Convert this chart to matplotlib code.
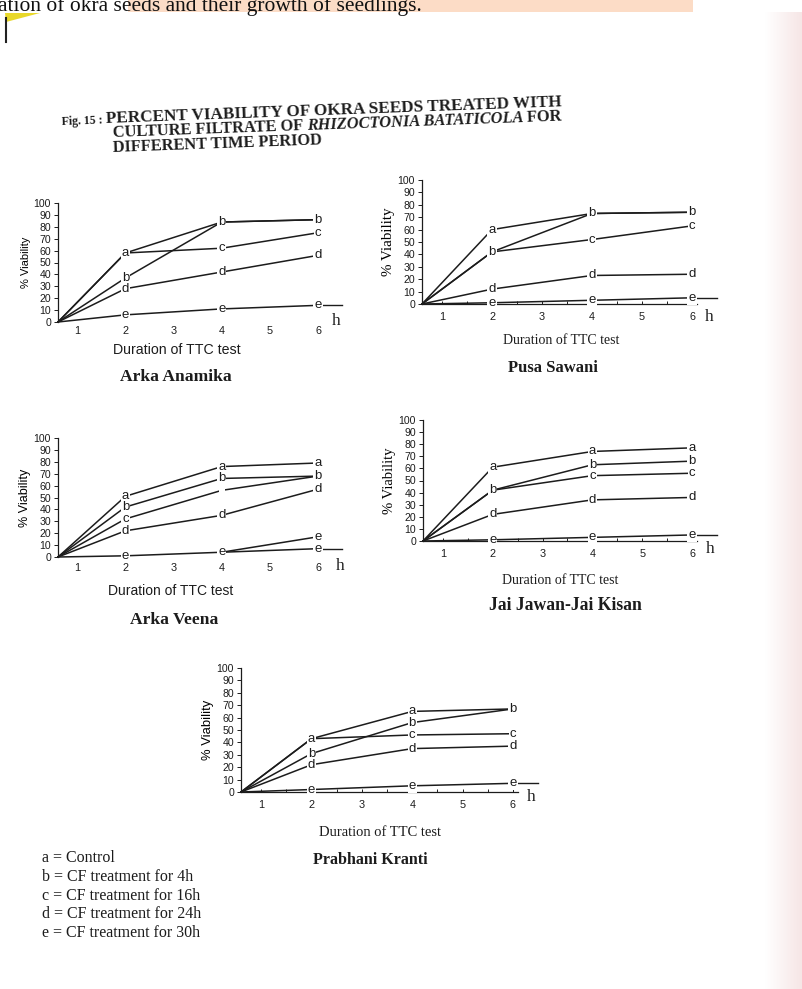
import numpy as np
import matplotlib.pyplot as plt
from matplotlib.colors import LinearSegmentedColormap

W, H = 802, 989

# x position of the points (origin, 2 h, 4 h, 6 h)
hours = [0.6, 2, 4, 6]
tick_hours = [1, 2, 3, 4, 5, 6]
viability_ticks = list(range(0, 101, 10))

# % viability per treatment (a = control, b..e = CF treatment 4/16/24/30 h)
anamika = {"a": [0, 58, 84, 86], "b": [0, 37, 84, 86], "c": [0, 58, 62, 75],
           "d": [0, 28, 42, 56], "e": [0, 6, 11, 14]}
pusa = {"a": [0, 60, 73, 74], "b": [0, 42, 73, 74], "c": [0, 42, 52, 63],
        "d": [0, 12, 23, 24], "e": [0, 1, 3, 5]}
veena = {"a": [0, 51, 76, 79], "b": [0, 42, 66, 68], "c": [0, 32, 56, 68],
         "d": [0, 22, 35, 57], "e": [0, 1, 4, 7]}
veena_e_late = 17
jai = {"a": [0, 61, 74, 77], "b": [0, 42, 63, 66], "c": [0, 42, 54, 56],
       "d": [0, 22, 34, 36], "e": [0, 1, 3, 5]}
prabhani = {"a": [0, 43, 65, 67], "b": [0, 31, 56, 67], "c": [0, 43, 46, 47],
            "d": [0, 22, 35, 37], "e": [0, 2, 5, 7]}

# letter printed at 2, 4, 6 h ('-' = none, ' ' = blank gap)
anamika_tags = {"a": "a--", "b": "bbb", "c": "-cc", "d": "ddd", "e": "eee"}
pusa_tags = {"a": "a--", "b": "bbb", "c": "-cc", "d": "ddd", "e": "eee"}
veena_tags = {"a": "aaa", "b": "bbb", "c": "c -", "d": "ddd", "e": "eee"}
jai_tags = {"a": "aaa", "b": "bbb", "c": "-cc", "d": "ddd", "e": "eee"}
prabhani_tags = {"a": "aa-", "b": "bbb", "c": "-cc", "d": "ddd", "e": "eee"}

legend_lines = ["a = Control", "b = CF treatment for 4h", "c = CF treatment for 16h",
                "d = CF treatment for 24h", "e = CF treatment for 30h"]

INK = "#1c1c1c"
SANS = ["Liberation Sans", "DejaVu Sans"]
SERIF = ["Liberation Serif", "DejaVu Serif"]

fig = plt.figure(figsize=(W / 100, H / 100), dpi=100)
bg = fig.add_axes([0, 0, 1, 1], zorder=-5)
bg.axis("off")

# scan decorations: highlighted running text of the previous line, page corner, tinted edge
bg.add_patch(plt.Rectangle((128, 0), 565, 12, color="#fcdcc6", lw=0))
bg.text(-2, 11, "ation of okra seeds and their growth of seedlings.", family=SERIF,
        fontsize=15.5, color="#111111", va="baseline", ha="left")
bg.add_patch(plt.Polygon([[5, 13], [40, 13], [6, 22]], color="#e8d82a", lw=0))
bg.plot([6, 6], [18, 42], color="#222222", lw=1.5)
grad = np.linspace(0, 1, 40)[None, :]
bg.imshow(grad, extent=[765, 802, 989, 12], aspect="auto", zorder=-6,
          cmap=LinearSegmentedColormap.from_list("edge", ["#ffffff", "#f6e6e6"]))
bg.set_xlim(0, W)
bg.set_ylim(H, 0)

ROT = 2.1


def bold_line(x, y, pieces):
    # write text pieces one after another along a slightly tilted baseline
    ang = np.deg2rad(ROT)
    r = fig.canvas.get_renderer()
    for txt, style, fs in pieces:
        bg.text(x, y, txt, family=SERIF, fontsize=fs, fontweight="bold", style=style,
                ha="left", va="baseline", rotation=ROT, rotation_mode="anchor", color=INK)
        tmp = bg.text(0, 0, txt, family=SERIF, fontsize=fs, fontweight="bold", style=style)
        w = tmp.get_window_extent(renderer=r).width
        tmp.remove()
        x += w * np.cos(ang)
        y -= w * np.sin(ang)


TS = 11.8
bold_line(62, 125, [("Fig. 15 : ", "normal", 8.5), ("PERCENT VIABILITY OF OKRA SEEDS TREATED WITH", "normal", 12.3)])
bold_line(113, 137, [("CULTURE FILTRATE OF ", "normal", TS), ("RHIZOCTONIA BATATICOLA", "italic", TS),
                     (" FOR", "normal", TS)])
bold_line(113, 152, [("DIFFERENT TIME PERIOD", "normal", TS)])


def chart(left, top, px6, bottom, data, tags, xfont, yfont, ylab_size, xaxis, xpad,
          lab_xy, lab_size, name_xy, name_size, h_xy):
    unit = (px6 - left) / (hours[-1] - hours[0])
    right = px6 + 0.5 * unit
    ax = fig.add_axes([left / W, 1 - bottom / H, (right - left) / W, (bottom - top) / H])
    ax.set_xlim(hours[0], hours[-1] + 0.5)
    ax.set_ylim(0, 100)
    ax.patch.set_alpha(0)
    for s in ["top", "right"]:
        ax.spines[s].set_visible(False)
    ax.spines["left"].set_color(INK)
    ax.spines["left"].set_linewidth(0.9)
    ax.spines["bottom"].set_visible(xaxis)
    ax.spines["bottom"].set_color(INK)
    ax.spines["bottom"].set_linewidth(0.9)
    ax.spines["bottom"].set_bounds(hours[0], hours[-1] + 0.1)
    ax.set_yticks(viability_ticks)
    ax.set_yticklabels([str(v) for v in viability_ticks], family=SANS, fontsize=7.6)
    ax.tick_params(axis="y", length=3, width=0.7, pad=2, colors=INK)
    ax.set_xticks(tick_hours)
    ax.set_xticklabels([str(v) for v in tick_hours], family=SANS, fontsize=7.8)
    ax.set_xticks(np.arange(1, 6.1, 0.5), minor=True)
    ax.tick_params(axis="x", which="both", length=2 if xaxis else 0, width=0.7, pad=xpad, colors=INK,
                   direction="in")
    ax.set_ylabel("% Viability", family=yfont, fontsize=ylab_size, labelpad=2)
    for key, vals in data.items():
        ax.plot(hours, vals, color=INK, lw=1.1, clip_on=False, zorder=2)
        for i, ch in enumerate(tags[key]):
            if ch == "-":
                continue
            ax.text(hours[i + 1], vals[i + 1], ch, family=SANS, fontsize=9.5, ha="center", va="center",
                    color=INK, zorder=4, clip_on=False,
                    bbox=dict(boxstyle="square,pad=0.08", fc="white", ec="none"))
    last_e = data["e"][-1]
    ax.plot([hours[-1], hours[-1] + 0.5], [last_e, last_e], color=INK, lw=1.0, clip_on=False, zorder=1)
    bg.text(*lab_xy, "Duration of TTC test", family=xfont, fontsize=lab_size, ha="center", va="center",
            color=INK)
    bg.text(name_xy[0], name_xy[1], name_xy[2], family=SERIF, fontsize=name_size, fontweight="bold",
            ha="center", va="center", color=INK)
    bg.text(*h_xy, "h", family=SERIF, fontsize=12.5, ha="center", va="center", color=INK)
    return ax


chart(58, 203, 318, 322, anamika, anamika_tags, SANS, SANS, 8, False, 3,
      (177, 350), 10.2, (176, 377, "Arka Anamika"), 12.6, (336, 321))
chart(422, 180, 692, 304, pusa, pusa_tags, SERIF, SERIF, 10.8, True, 6,
      (561, 340), 10, (553, 368, "Pusa Sawani"), 12, (709, 317))
ax3 = chart(58, 438, 318, 557, veena, veena_tags, SANS, SANS, 9, False, 4,
            (171, 591), 10, (174, 620, "Arka Veena"), 12.6, (340, 566))
ax3.plot(hours[2:], [veena["e"][2], veena_e_late], color=INK, lw=1.1, clip_on=False, zorder=2)
ax3.text(hours[3], veena_e_late, "e", family=SANS, fontsize=9.5, ha="center", va="center", color=INK,
         zorder=4, bbox=dict(boxstyle="square,pad=0.08", fc="white", ec="none"))
chart(423, 420, 692, 541, jai, jai_tags, SERIF, SERIF, 10.5, True, 6,
      (560, 580), 10, (565, 605, "Jai Jawan-Jai Kisan"), 12.7, (710, 549))
chart(241, 668, 513, 792, prabhani, prabhani_tags, SERIF, SANS, 9.4, True, 6,
      (380, 832), 10.5, (370, 860, "Prabhani Kranti"), 11.5, (531, 797))

for i, line in enumerate(legend_lines):
    bg.text(42, 858 + 18.8 * i, line, family=SERIF, fontsize=11.5, ha="left", va="center", color=INK)

fig.savefig("out.png", dpi=100)
